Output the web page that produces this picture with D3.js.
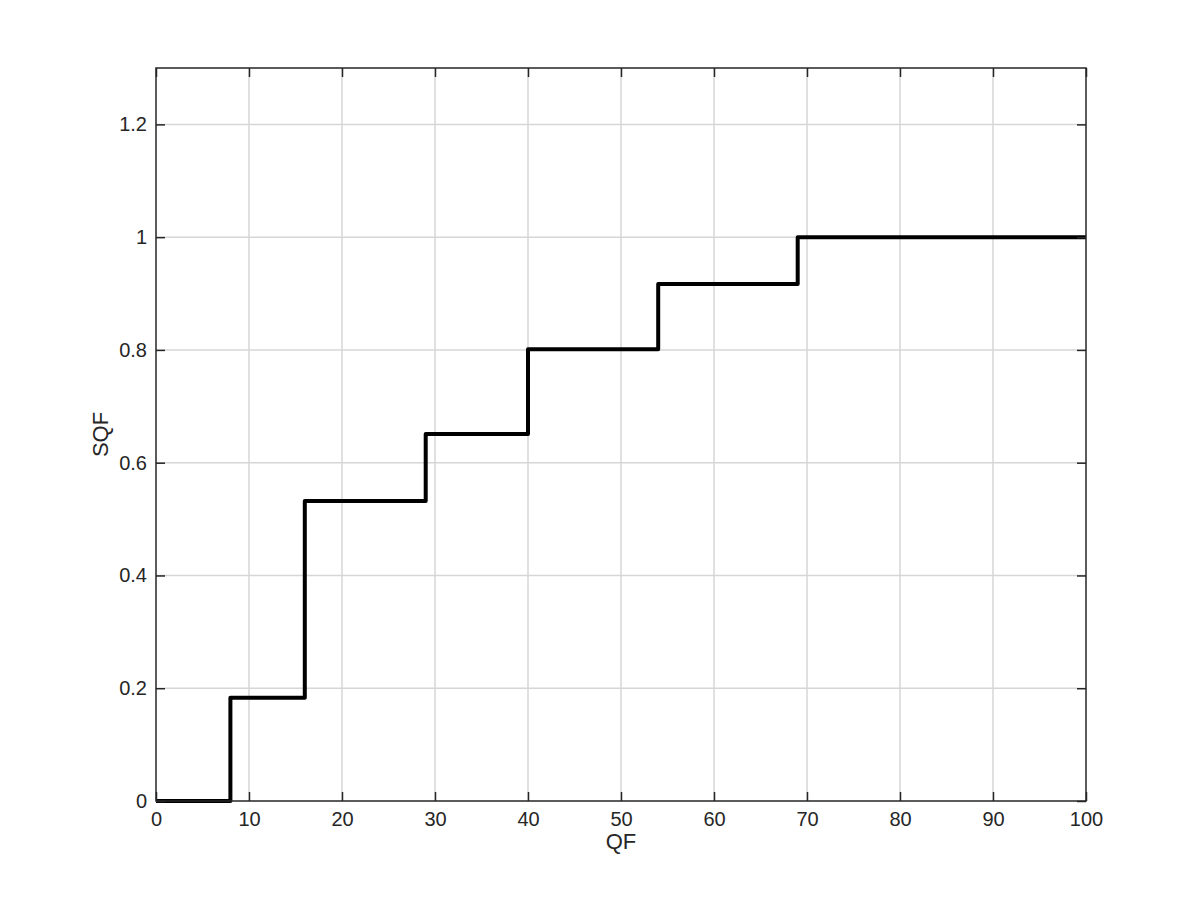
<!DOCTYPE html>
<html>
<head>
<meta charset="utf-8">
<script src="https://cdn.jsdelivr.net/npm/d3@7"></script>
<style>
body { margin: 0; background: #fff; }
svg text { font-family: "Liberation Sans", Arial, sans-serif; fill: #262626; }
</style>
</head>
<body>
<div id="chart"></div>
<script>
// step values
var qf = [0, 8, 16, 29, 40, 54, 69, 100]
var sqf = [0, 0.183, 0.532, 0.651, 0.801, 0.917, 1, 1]
var xTicks = [0, 10, 20, 30, 40, 50, 60, 70, 80, 90, 100]
var yTicks = [0, 0.2, 0.4, 0.6, 0.8, 1, 1.2]

var width = 1200, height = 900
var margin = {top: 68, right: 114, bottom: 99, left: 156}

var svg = d3.select("#chart").append("svg")
	.attr("width", width)
	.attr("height", height)

var xScale = d3.scaleLinear().domain([0, 100]).range([margin.left, width - margin.right])
var yScale = d3.scaleLinear().domain([0, 1.3]).range([height - margin.bottom, margin.top])

var x0 = xScale(0), x1 = xScale(100), y0 = yScale(0), y1 = yScale(1.3)

// grid
svg.append("g").selectAll("line.vgrid")
	.data(xTicks.filter(d => d > 0 && d < 100))
	.enter().append("line")
	.attr("x1", d => xScale(d)).attr("x2", d => xScale(d))
	.attr("y1", y0).attr("y2", y1)
	.attr("stroke", "#d6d6d6").attr("stroke-width", 1.5)

svg.append("g").selectAll("line.hgrid")
	.data(yTicks.filter(d => d > 0))
	.enter().append("line")
	.attr("x1", x0).attr("x2", x1)
	.attr("y1", d => yScale(d)).attr("y2", d => yScale(d))
	.attr("stroke", "#d6d6d6").attr("stroke-width", 1.5)

// the step line
var line = d3.line()
	.curve(d3.curveStepAfter)
	.x((d, i) => xScale(qf[i]))
	.y((d, i) => yScale(sqf[i]))

svg.append("path")
	.datum(qf)
	.attr("fill", "none")
	.attr("stroke", "#000")
	.attr("stroke-width", 4)
	.attr("stroke-linejoin", "round")
	.attr("d", line)

// axes, matlab style with inward ticks on all four sides
var fmt = d => d3.format("~g")(d)

var xAxis = d3.axisBottom(xScale).tickValues(xTicks).tickSize(-9).tickPadding(11).tickFormat(fmt)
var xAxisTop = d3.axisTop(xScale).tickValues(xTicks).tickSize(-9).tickFormat("")
var yAxis = d3.axisLeft(yScale).tickValues(yTicks).tickSize(-9).tickPadding(9).tickFormat(fmt)
var yAxisRight = d3.axisRight(yScale).tickValues(yTicks).tickSize(-9).tickFormat("")

function styleAxis(g){
	g.select(".domain").remove()
	g.selectAll(".tick line").attr("stroke", "#262626").attr("stroke-width", 1.5)
	g.selectAll(".tick text").style("font-size", "20px").attr("fill", "#262626")
}

svg.append("g").attr("transform", "translate(0," + y0 + ")").call(xAxis).call(styleAxis)
svg.append("g").attr("transform", "translate(0," + y1 + ")").call(xAxisTop).call(styleAxis)
svg.append("g").attr("transform", "translate(" + x0 + ",0)").call(yAxis).call(styleAxis)
svg.append("g").attr("transform", "translate(" + x1 + ",0)").call(yAxisRight).call(styleAxis)

// box
svg.append("rect")
	.attr("x", x0).attr("y", y1)
	.attr("width", x1 - x0).attr("height", y0 - y1)
	.attr("fill", "none")
	.attr("stroke", "#262626")
	.attr("stroke-width", 1.5)

// titles
svg.append("text")
	.attr("x", (x0 + x1) / 2)
	.attr("y", 849)
	.attr("text-anchor", "middle")
	.style("font-size", "22px")
	.text("QF")

svg.append("text")
	.attr("transform", "translate(108," + ((y0 + y1) / 2) + ") rotate(-90)")
	.attr("text-anchor", "middle")
	.style("font-size", "22px")
	.text("SQF")
</script>
</body>
</html>
